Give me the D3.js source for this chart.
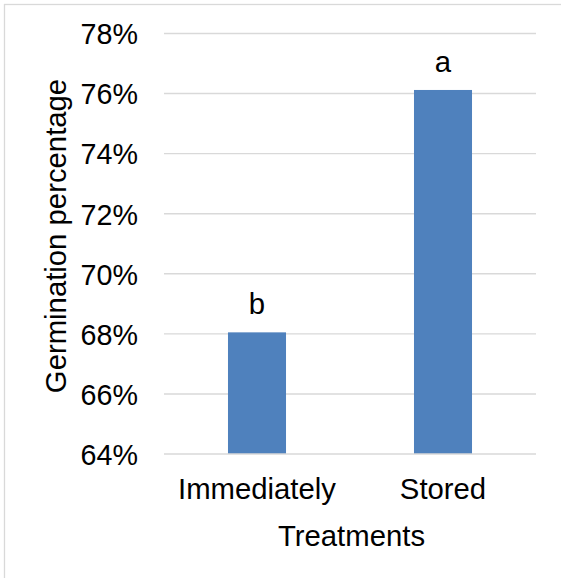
<!DOCTYPE html>
<html>
<head>
<meta charset="utf-8">
<script src="https://cdn.jsdelivr.net/npm/d3@7"></script>
<style>
  html, body { margin: 0; padding: 0; background: #fff; }
  svg { display: block; font-family: "Liberation Sans", Arial, sans-serif; }
</style>
</head>
<body>
<svg id="chart" width="561" height="578"></svg>
<script>
// Germination percentage by treatment
const categories = ["Immediately", "Stored"];
const values = [0.6805, 0.7612];
const letters = ["b", "a"];
const yTicks = [0.64, 0.66, 0.68, 0.70, 0.72, 0.74, 0.76, 0.78];

const svg = d3.select("#chart");
const W = 561, H = 578;
const plot = { left: 164, right: 536, top: 33.5, bottom: 454 };
const fontSize = 28.7;
const labelSize = 29.3;
const gridColor = "#d9d9d9";

// outer chart frame (extends past the right and bottom edges)
svg.append("rect")
  .attr("x", 4.5).attr("y", 4.5)
  .attr("width", W + 20).attr("height", H + 20)
  .attr("fill", "#fff")
  .attr("stroke", gridColor).attr("stroke-width", 1.3);

const x = d3.scaleBand()
  .domain(categories)
  .range([plot.left, plot.right])
  .paddingInner(0.688)
  .paddingOuter(0.344);

const y = d3.scaleLinear()
  .domain([0.64, 0.78])
  .range([plot.bottom, plot.top]);

// horizontal gridlines
svg.append("g")
  .selectAll("line")
  .data(yTicks.slice(1))
  .join("line")
  .attr("x1", plot.left).attr("x2", plot.right)
  .attr("y1", d => y(d)).attr("y2", d => y(d))
  .attr("stroke", gridColor).attr("stroke-width", 1.4);

// y axis tick labels
const yAxis = d3.axisLeft(y)
  .tickValues(yTicks)
  .tickFormat(d3.format(".0%"))
  .tickSize(0)
  .tickPadding(26);
const gy = svg.append("g")
  .attr("transform", `translate(${plot.left},0)`)
  .call(yAxis);
gy.select(".domain").remove();
gy.selectAll("text")
  .attr("font-size", fontSize)
  .attr("font-family", "Liberation Sans, Arial, sans-serif")
  .attr("fill", "#000")
  .attr("dy", "0.36em");

// bars
svg.append("g")
  .selectAll("rect")
  .data(categories)
  .join("rect")
  .attr("x", d => x(d))
  .attr("width", x.bandwidth())
  .attr("y", (d, i) => y(values[i]))
  .attr("height", (d, i) => y(0.64) - y(values[i]))
  .attr("fill", "#4f81bd");

// significance letters above bars
svg.append("g")
  .selectAll("text")
  .data(categories)
  .join("text")
  .attr("x", d => x(d) + x.bandwidth() / 2)
  .attr("y", (d, i) => y(values[i]) - 18)
  .attr("text-anchor", "middle")
  .attr("font-size", labelSize)
  .attr("fill", "#000")
  .text((d, i) => letters[i]);

// x axis
const xAxis = d3.axisBottom(x).tickSize(0).tickPadding(24);
const gx = svg.append("g")
  .attr("transform", `translate(0,${plot.bottom})`)
  .call(xAxis);
gx.select(".domain")
  .attr("stroke", gridColor).attr("stroke-width", 1.4)
  .attr("d", `M${plot.left},0H${plot.right}`);
gx.selectAll("text")
  .attr("font-size", labelSize)
  .attr("font-family", "Liberation Sans, Arial, sans-serif")
  .attr("fill", "#000")
  .attr("dy", "0")
  .attr("y", 45);

// axis titles
svg.append("text")
  .attr("x", (plot.left + plot.right) / 2 + 1.5)
  .attr("y", 546)
  .attr("text-anchor", "middle")
  .attr("font-size", labelSize)
  .attr("fill", "#000")
  .text("Treatments");

svg.append("text")
  .attr("transform", `translate(66,${236}) rotate(-90)`)
  .attr("text-anchor", "middle")
  .attr("font-size", labelSize)
  .attr("fill", "#000")
  .text("Germination percentage");
</script>
</body>
</html>
